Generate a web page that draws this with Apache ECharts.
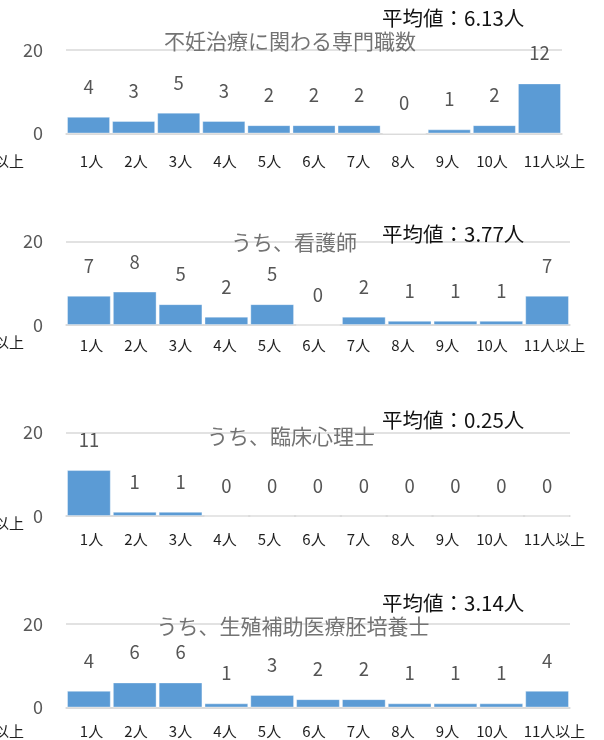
<!DOCTYPE html>
<html>
<head>
<meta charset="utf-8">
<script src="https://cdn.jsdelivr.net/npm/echarts@6/dist/echarts.min.js"></script>
<style>
  html, body { margin: 0; padding: 0; background: #ffffff; }
  #chart { width: 604px; height: 740px; }
</style>
</head>
<body>
<div id="chart"></div>
<script>
// Staff-count categories shared by all four panels
const categories = ['1人', '2人', '3人', '4人', '5人', '6人', '7人', '8人', '9人', '10人', '11人以上'];

// Number of facilities per staff-count bucket
const totalStaff     = [4, 3, 5, 3, 2, 2, 2, 0, 1, 2, 12];
const nurses         = [7, 8, 5, 2, 5, 0, 2, 1, 1, 1, 7];
const psychologists  = [11, 1, 1, 0, 0, 0, 0, 0, 0, 0, 0];
const embryologists  = [4, 6, 6, 1, 3, 2, 2, 1, 1, 1, 4];

// Panel titles and the mean staff count shown with each panel
const panelTitles = ['不妊治療に関わる専門職数', 'うち、看護師', 'うち、臨床心理士', 'うち、生殖補助医療胚培養士'];
const averages    = ['6.13', '3.77', '0.25', '3.14'];

// Value axis range and ticks
const yMin = 0;
const yMax = 20;
const yTickStep = 20;

const FONT = '"Noto Sans CJK JP", "Noto Sans", sans-serif';
const BAR_COLOR = '#5B9BD5';
const GRID_COLOR = '#d9d9d9';

const seriesValues = [totalStaff, nurses, psychologists, embryologists];

// Layout of each panel (plot box, label offsets, title and mean positions)
const panels = [
  { top: 50,    width: 496, xLabelMargin: 20, titleX: 290, titleY: 41,    avgY: 18.5, cutY: 161 },
  { top: 241.5, width: 504, xLabelMargin: 13, titleX: 294, titleY: 242.5, avgY: 234,  cutY: 342 },
  { top: 432.5, width: 504, xLabelMargin: 16, titleX: 291, titleY: 436.5, avgY: 420.5, cutY: 523 },
  { top: 624,   width: 504, xLabelMargin: 16, titleX: 293, titleY: 626.5, avgY: 603,  cutY: 731 }
];
const PLOT_LEFT = 66;
const PLOT_HEIGHT = 83.5;
const LABEL_LEFT = 69.25;
const LABEL_WIDTH = 489.5;

const grid = [], xAxis = [], yAxis = [], series = [], graphic = [];

panels.forEach((p, i) => {
  // plot grid holding the bars
  grid.push({ left: PLOT_LEFT, top: p.top, width: p.width, height: PLOT_HEIGHT });
  // companion grid carrying only the category labels
  grid.push({ left: LABEL_LEFT, top: p.top, width: LABEL_WIDTH, height: PLOT_HEIGHT });

  xAxis.push({
    type: 'category', gridIndex: 2 * i, data: categories,
    axisLine: { show: true, lineStyle: { color: GRID_COLOR, width: 1.5 } },
    axisTick: { show: false }, axisLabel: { show: false }
  });
  xAxis.push({
    type: 'category', gridIndex: 2 * i + 1, data: categories,
    axisLine: { show: false }, axisTick: { show: false },
    axisLabel: {
      interval: 0, margin: p.xLabelMargin, fontSize: 15, color: '#1f1f1f', fontFamily: FONT,
      formatter: (v, idx) => idx === categories.length - 1 ? '{last|' + v + '}' : v,
      rich: { last: { fontSize: 15, color: '#1f1f1f', fontFamily: FONT, padding: [0, 0, 0, 36] } }
    }
  });

  yAxis.push({
    type: 'value', gridIndex: 2 * i, min: yMin, max: yMax, interval: yTickStep,
    axisLine: { show: false }, axisTick: { show: false },
    axisLabel: { margin: 23, fontSize: 18, color: '#595959', fontFamily: FONT },
    splitLine: { show: true, lineStyle: { color: GRID_COLOR, width: 1.5 } }
  });
  yAxis.push({ type: 'value', gridIndex: 2 * i + 1, show: false, min: yMin, max: yMax });

  series.push({
    type: 'bar', xAxisIndex: 2 * i, yAxisIndex: 2 * i,
    data: seriesValues[i],
    barCategoryGap: '4.5%',
    itemStyle: { color: BAR_COLOR, borderColor: 'rgba(255,255,255,0.35)', borderWidth: 1 },
    label: {
      show: true, position: 'top', distance: 21,
      fontSize: 18.5, lineHeight: 18, color: '#555555', fontFamily: FONT
    },
    emphasis: { disabled: true },
    animation: false
  });

  graphic.push({
    type: 'text', x: p.titleX, y: p.titleY, z: 10,
    style: { text: panelTitles[i], fontSize: 21, fontFamily: FONT, fill: '#737373',
             textAlign: 'center', textVerticalAlign: 'middle' }
  });
  graphic.push({
    type: 'text', x: 382, y: p.avgY, z: 10,
    style: { text: '平均値：' + averages[i] + '人', fontSize: 20.5, fontFamily: FONT, fill: '#111111',
             textAlign: 'left', textVerticalAlign: 'middle' }
  });
  // clipped category label at the left edge
  graphic.push({
    type: 'text', x: 24, y: p.cutY, z: 10,
    style: { text: categories[categories.length - 1], fontSize: 15, fontFamily: FONT, fill: '#1f1f1f',
             textAlign: 'right', textVerticalAlign: 'middle' }
  });
});

const chart = echarts.init(document.getElementById('chart'), null, { renderer: 'canvas' });
chart.setOption({
  backgroundColor: '#ffffff',
  animation: false,
  textStyle: { fontFamily: FONT },
  grid, xAxis, yAxis, series, graphic
});
</script>
</body>
</html>
